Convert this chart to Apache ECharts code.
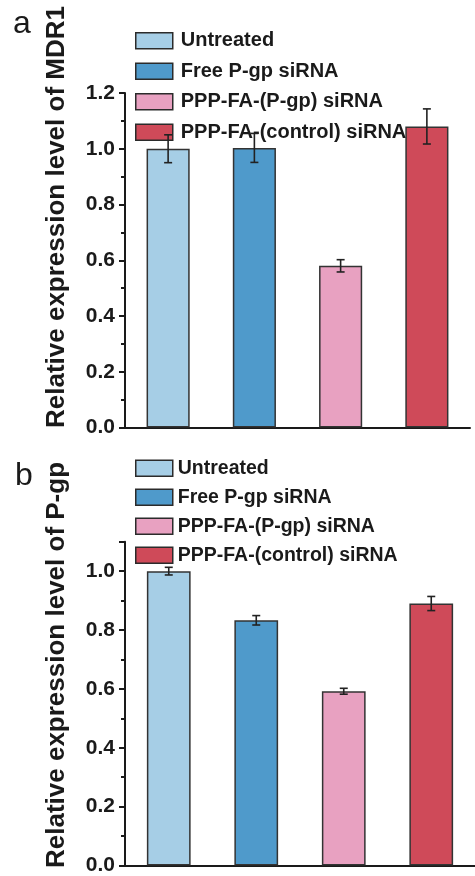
<!DOCTYPE html>
<html>
<head>
<meta charset="utf-8">
<script src="https://cdn.jsdelivr.net/npm/echarts@6/dist/echarts.min.js"></script>
<style>
  html, body { margin: 0; padding: 0; background: #ffffff; }
  #chart { width: 475px; height: 876px; }
</style>
</head>
<body>
<div id="chart"></div>
<script>
// Treatment groups (shared by both panels)
const categories = ['Untreated', 'Free P-gp siRNA', 'PPP-FA-(P-gp) siRNA', 'PPP-FA-(control) siRNA'];
const barColors = ['#a6cee6', '#4f9acb', '#e8a1c1', '#cf4a59'];

// Panel a: relative MDR1 mRNA expression (mean, error)
const mdr1Values = [1.00, 1.003, 0.58, 1.08];
const mdr1Errors = [0.05, 0.052, 0.022, 0.063];

// Panel b: relative P-gp protein expression (mean, error)
const pgpValues = [1.00, 0.833, 0.592, 0.89];
const pgpErrors = [0.013, 0.016, 0.01, 0.024];

// Y-axis ranges
const yRangeA = { min: 0, max: 1.2, interval: 0.2 };
const yRangeB = { min: 0, max: 1.1, interval: 0.2 };

const FONT = 'Liberation Sans, Arial, sans-serif';
const INK = '#1a1a1a';

function barSeries(values, gridIdx, yIdx) {
  return categories.map((name, i) => ({
    type: 'bar',
    name: name,
    xAxisIndex: gridIdx,
    yAxisIndex: yIdx,
    barWidth: '50%',
    barGap: '-100%',
    data: values.map((v, j) => (j === i ? v : '-')),
    itemStyle: { color: barColors[i], borderColor: '#333', borderWidth: 1.5 },
    emphasis: { disabled: true },
    z: 2
  }));
}

function errorSeries(values, errors, gridIdx, yIdx) {
  return {
    type: 'custom',
    xAxisIndex: gridIdx,
    yAxisIndex: yIdx,
    data: values.map((v, i) => [i, v, errors[i]]),
    encode: { x: 0, y: 1 },
    z: 5,
    renderItem: function (params, api) {
      const i = api.value(0), v = api.value(1), e = api.value(2);
      const top = api.coord([i, v + e]);
      const bot = api.coord([i, v - e]);
      const hw = 4;
      const st = { stroke: '#222', lineWidth: 1.6 };
      return {
        type: 'group',
        children: [
          { type: 'line', shape: { x1: top[0], y1: top[1], x2: bot[0], y2: bot[1] }, style: st },
          { type: 'line', shape: { x1: top[0] - hw, y1: top[1], x2: top[0] + hw, y2: top[1] }, style: st },
          { type: 'line', shape: { x1: bot[0] - hw, y1: bot[1], x2: bot[0] + hw, y2: bot[1] }, style: st }
        ]
      };
    }
  };
}

function legendFor(top, gap, fontSize, textPad) {
  return {
    orient: 'vertical',
    left: 135,
    top: top,
    padding: 0,
    itemWidth: 37,
    itemHeight: 16,
    itemGap: gap,
    icon: 'rect',
    selectedMode: false,
    data: categories,
    itemStyle: { borderColor: '#2b2b2b', borderWidth: 1.5 },
    textStyle: {
      fontFamily: FONT, fontWeight: 'bold', fontSize: fontSize, color: INK,
      lineHeight: 16, padding: [0, 0, 0, textPad]
    }
  };
}

const xAxisCommon = {
  type: 'category',
  data: categories,
  boundaryGap: true,
  axisLine: { show: true, lineStyle: { color: INK, width: 2 } },
  axisTick: { show: false },
  axisLabel: { show: false },
  splitLine: { show: false }
};

const labelStyle = {
  fontFamily: FONT, fontWeight: 'bold', fontSize: 21, color: INK, margin: 10
};

const option = {
  backgroundColor: '#ffffff',
  animation: false,
  grid: [
    { left: 125, right: 5, top: 93, bottom: 448.5, containLabel: false },
    { left: 125, right: -7, top: 541.7, bottom: 8.3, containLabel: false }
  ],
  legend: [legendFor(30.7, 10.5, 20, 3), legendFor(458.3, 9, 19.5, 0)],
  xAxis: [
    Object.assign({ gridIndex: 0 }, xAxisCommon),
    Object.assign({ gridIndex: 1 }, xAxisCommon)
  ],
  yAxis: [
    {
      type: 'value', gridIndex: 0, position: 'left',
      min: yRangeA.min, max: yRangeA.max, interval: yRangeA.interval,
      axisLine: { show: true, lineStyle: { color: INK, width: 2 } },
      axisTick: { show: true, inside: false, length: 6, lineStyle: { color: INK, width: 2 } },
      minorTick: { show: true, splitNumber: 2, length: 4, lineStyle: { color: INK, width: 2 } },
      axisLabel: Object.assign({ formatter: v => v.toFixed(1) }, labelStyle),
      splitLine: { show: false }
    },
    {
      // panel b: axis line, labels and the tenth ticks
      type: 'value', gridIndex: 1, position: 'left',
      min: yRangeB.min, max: yRangeB.max, interval: yRangeB.interval / 2,
      axisLine: { show: true, lineStyle: { color: INK, width: 2 } },
      axisTick: { show: true, inside: false, length: 4, lineStyle: { color: INK, width: 2 } },
      axisLabel: Object.assign({
        showMaxLabel: false,
        formatter: v => (Math.round(v * 10) % 2 === 0 ? v.toFixed(1) : '')
      }, labelStyle),
      splitLine: { show: false }
    },
    {
      // panel b: longer ticks at labelled values
      type: 'value', gridIndex: 1, position: 'left',
      min: yRangeB.min, max: yRangeB.max, interval: yRangeB.interval,
      axisLine: { show: false },
      axisTick: { show: true, inside: false, length: 6, lineStyle: { color: INK, width: 2 } },
      axisLabel: { show: false },
      splitLine: { show: false }
    }
  ],
  graphic: [
    { type: 'text', x: 13, y: 24, style: { text: 'a', font: 'normal 32px ' + FONT, fill: INK, textAlign: 'left', textVerticalAlign: 'middle' } },
    { type: 'text', x: 15, y: 476, style: { text: 'b', font: 'normal 32px ' + FONT, fill: INK, textAlign: 'left', textVerticalAlign: 'middle' } },
    { type: 'text', x: 57, y: 428, rotation: Math.PI / 2, style: { text: 'Relative expression level of MDR1', font: 'bold 26px ' + FONT, fill: INK, textAlign: 'left', textVerticalAlign: 'middle' } },
    { type: 'text', x: 57, y: 868, rotation: Math.PI / 2, style: { text: 'Relative expression level of P-gp', font: 'bold 26px ' + FONT, fill: INK, textAlign: 'left', textVerticalAlign: 'middle' } }
  ],
  series: [].concat(
    barSeries(mdr1Values, 0, 0),
    [errorSeries(mdr1Values, mdr1Errors, 0, 0)],
    barSeries(pgpValues, 1, 1),
    [errorSeries(pgpValues, pgpErrors, 1, 1)]
  )
};

const chart = echarts.init(document.getElementById('chart'), null, { renderer: 'canvas' });
chart.setOption(option);
</script>
</body>
</html>
